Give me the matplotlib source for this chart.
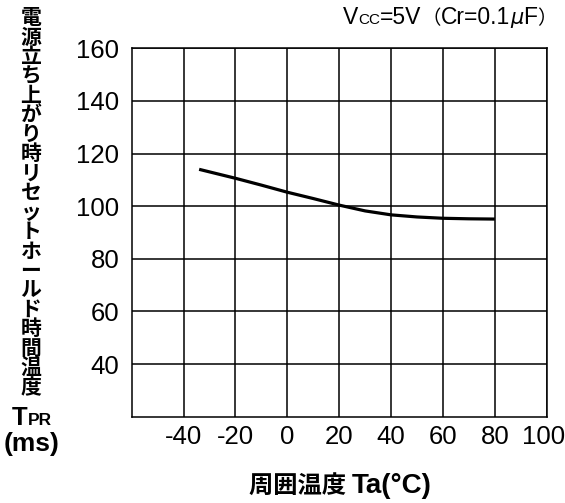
import matplotlib
matplotlib.use("Agg")
import matplotlib.pyplot as plt
import matplotlib.transforms as mtransforms
from matplotlib.offsetbox import TextArea, HPacker, AnnotationBbox
from matplotlib import font_manager

# data
temp = [-34, -20, -10, 0, 10, 20, 30, 40, 50, 60, 70, 80]
tpr = [114.0, 110.6, 108.0, 105.3, 102.9, 100.4, 98.2, 96.7, 95.9, 95.4, 95.2, 95.1]
xticks = [-40, -20, 0, 20, 40, 60, 80, 100]
yticks = [40, 60, 80, 100, 120, 140, 160]
ylabel_chars = "電源立ち上がり時リセットホールド時間温度"

plt.rcParams["axes.unicode_minus"] = False

names = {f.name for f in font_manager.fontManager.ttflist}
num_font = "Liberation Sans Narrow" if "Liberation Sans Narrow" in names else "Liberation Sans"
jp = ["Noto Sans CJK JP", "DejaVu Sans"]

fig = plt.figure(figsize=(5.65, 5.03), dpi=100)
ax = fig.add_axes([0.2331, 0.1716, 0.7345, 0.7324])

ax.plot(temp, tpr, color="black", lw=2.3, solid_capstyle="butt")
ax.set_xlim(-60, 100)
ax.set_ylim(20, 160)
ax.set_xticks(xticks)
ax.set_yticks(yticks)
ax.grid(True, color="black", lw=1.1)
for s in ax.spines.values():
    s.set_linewidth(1.1)
ax.tick_params(length=0, labelsize=18.5)
ax.tick_params(axis="y", pad=9)
ax.tick_params(axis="x", pad=6)
for lab in ax.get_xticklabels() + ax.get_yticklabels():
    lab.set_fontfamily(num_font)
# last label sits at the right edge, nudge it in a little
last = ax.get_xticklabels()[-1]
last.set_transform(last.get_transform() +
                   mtransforms.ScaledTranslation(-3 / 100, 0, fig.dpi_scale_trans))

# vertical y label, one character per row
W, H = 565, 503
top = 17.7
pitch = 19.45
for i, ch in enumerate(ylabel_chars):
    fig.text(31 / W, 1 - (top + i * pitch) / H, ch, family=jp, fontsize=15,
             fontweight="bold", ha="center", va="center")


def row(parts, xy, align):
    boxes = [TextArea(t, textprops=p) for t, p in parts]
    pack = HPacker(children=boxes, align="baseline", pad=0, sep=0)
    ab = AnnotationBbox(pack, xy, xycoords="figure pixels", box_alignment=align,
                        frameon=False, pad=0)
    fig.add_artist(ab)


big = dict(family=num_font, fontsize=18.5, fontweight="bold")
small = dict(family=num_font, fontsize=12.5, fontweight="bold")
row([("T", big), ("PR", small)], (32, H - 418), (0.5, 0.5))
row([("(ms)", dict(family=num_font, fontsize=19, fontweight="bold"))], (32, H - 444), (0.5, 0.5))

tb = dict(family=num_font, fontsize=16.5)
ts = dict(family=num_font, fontsize=11)
row([("V", tb), ("CC", ts), ("=5V", tb), ("（", dict(family=jp, fontsize=14)),
     ("Cr=0.1", tb), ("μ", dict(family="DejaVu Sans", fontsize=15, style="italic")),
     ("F", tb), ("）", dict(family=jp, fontsize=14))],
    (557, H - 18), (1, 0.5))

row([("周囲温度 ", dict(family=jp, fontsize=17.5, fontweight="bold")),
     ("Ta(°C)", dict(family="Liberation Sans", fontsize=20, fontweight="bold"))],
    (340, H - 486), (0.5, 0.5))

fig.savefig("out.png", dpi=100)
